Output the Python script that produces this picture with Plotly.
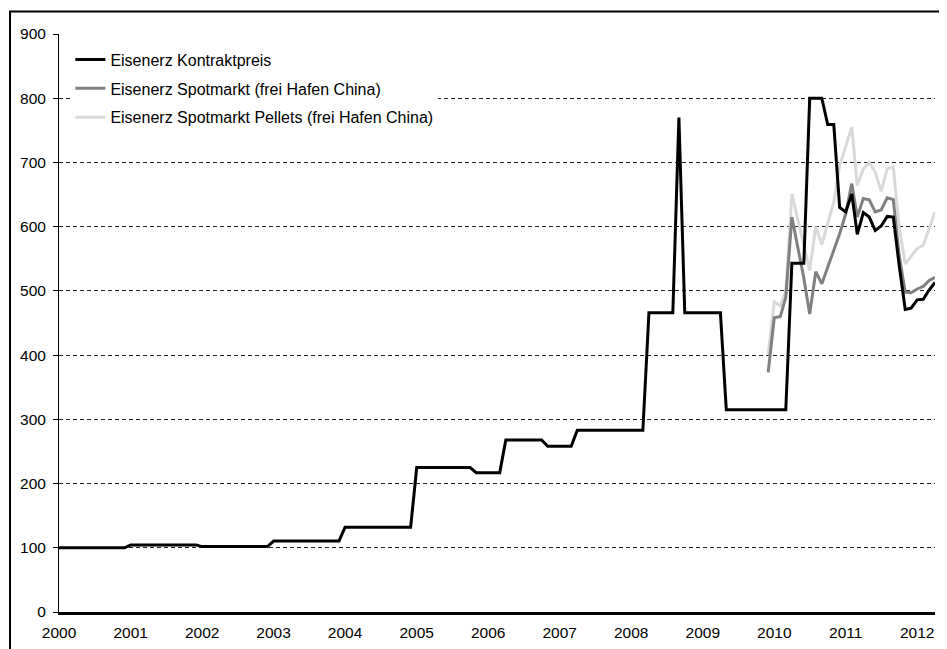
import plotly.graph_objects as go
import pandas as pd

# Monthly categories Jan 2000 .. Apr 2012
months = pd.date_range("2000-01-01", "2012-04-01", freq="MS")
year_ticks = pd.date_range("2000-01-01", "2012-01-01", freq="YS")
year_labels = [str(d.year) for d in year_ticks]

# Eisenerz Kontraktpreis (index, 2000 = 100), monthly
contract = ([100] * 12 + [104.5] * 12 + [101.8] * 12 + [110.5] * 12 + [132] * 12
            + [225] * 10 + [217] * 5 + [268] * 7 + [258] * 5 + [283] * 12
            + [466] * 5 + [770] + [466] * 7 + [315] * 11 + [543] * 3 + [800] * 3 + [759] * 2
            + [630, 623, 651, 588, 622, 615, 594, 601, 616, 615, 540, 471, 473, 486, 487, 501, 513])

# Spot series start Dec 2009
spot_months = months[119:]
spot = [373, 458, 460, 490, 615, 570, 520, 464, 530, 511, 537, 563, 589, 620, 667,
        615, 644, 642, 623, 626, 645, 642, 555, 498, 497, 503, 507, 516, 521]
pellets = [400, 483, 477, 500, 651, 610, 570, 532, 600, 572, 605, 638, 695, 725, 755,
           664, 690, 700, 685, 655, 690, 693, 600, 542, 553, 566, 571, 597, 623]

names = ["Eisenerz Kontraktpreis",
         "Eisenerz Spotmarkt (frei Hafen China)",
         "Eisenerz Spotmarkt Pellets (frei Hafen China)"]

FONT = "Liberation Sans, Arial, sans-serif"

fig = go.Figure()
fig.add_trace(go.Scatter(x=spot_months, y=pellets, mode="lines", name=names[2],
                         line=dict(color="#D9D9D9", width=3), legendgroup="p", legendrank=3))
fig.add_trace(go.Scatter(x=spot_months, y=spot, mode="lines", name=names[1],
                         line=dict(color="#808080", width=3), legendgroup="s", legendrank=2))
fig.add_trace(go.Scatter(x=months, y=contract, mode="lines", name=names[0],
                         line=dict(color="#000000", width=3), legendgroup="k", legendrank=1))

fig.update_layout(
    width=939, height=641,
    margin=dict(l=51, r=12, t=26, b=37, autoexpand=False),
    paper_bgcolor="white", plot_bgcolor="white",
    font=dict(family=FONT, size=16, color="#000000"),
    showlegend=True,
    legend=dict(x=0.013, y=0.985, xanchor="left", yanchor="top",
                bgcolor="white", font=dict(family=FONT, size=16, color="#000000"),
                tracegroupgap=5),
    xaxis=dict(type="date", range=[months[0], months[-1]],
               tickvals=year_ticks, ticktext=year_labels, automargin=False,
               showgrid=False, zeroline=False,
               showline=True, linecolor="#000000", linewidth=2.5,
               ticks="", ticklabelstandoff=5,
               tickfont=dict(family=FONT, size=15.5)),
    yaxis=dict(range=[0, 900], dtick=100, tick0=0, automargin=False,
               showgrid=True, gridcolor="#222222", gridwidth=1, griddash="4px,3px",
               zeroline=False, showline=True, linecolor="#000000", linewidth=1,
               ticks="outside", ticklen=5, tickcolor="#000000",
               ticklabelstandoff=4,
               tickfont=dict(family=FONT, size=15.5)),
    shapes=[dict(type="rect", xref="paper", yref="paper",
                 x0=-0.0559, x1=1.1, y0=-0.2, y1=1.039,
                 line=dict(color="#000000", width=2), fillcolor="rgba(0,0,0,0)")],
)

fig.write_html("out.html")
